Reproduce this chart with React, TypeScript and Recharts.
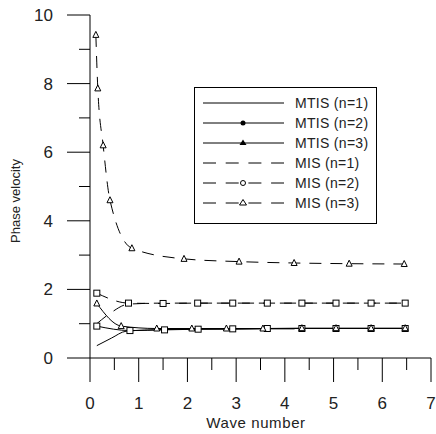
import React from "react";
import { LineChart, Line, XAxis, YAxis, Legend } from "recharts";

const FONT = '"Liberation Sans", Arial, sans-serif';
const INK = "#222";

// values
const xTicks = [0, 0.5, 1, 1.5, 2, 2.5, 3, 3.5, 4, 4.5, 5, 5.5, 6, 6.5, 7];
const yTicks = [0, 1, 2, 3, 4, 5, 6, 7, 8, 9, 10];

const mtis1X = [0.14, 0.44, 0.74, 1.5, 2.2, 2.9, 3.6, 4.2];
const mtis1Y = [0.36, 0.58, 0.78, 0.83, 0.84, 0.84, 0.85, 0.85];

const mtis2X = [0.14, 0.82, 1.53, 2.22, 2.93, 3.64, 4.35, 5.05, 5.77, 6.47];
const mtis2Y = [0.93, 0.8, 0.82, 0.84, 0.85, 0.86, 0.86, 0.86, 0.86, 0.86];

const mtis3X = [0.14, 0.64, 1.37, 2.09, 2.8, 3.55, 4.35, 5.05, 5.77, 6.47];
const mtis3Y = [1.59, 0.93, 0.86, 0.86, 0.86, 0.86, 0.87, 0.87, 0.87, 0.87];

const mis1X = [0.14, 0.42, 0.79, 1.5, 2.21, 2.93, 3.64, 4.35, 5.05, 5.77, 6.47];
const mis1Y = [1.0, 1.31, 1.57, 1.6, 1.6, 1.6, 1.6, 1.6, 1.6, 1.6, 1.6];

const mis2X = [0.14, 0.79, 1.5, 2.21, 2.93, 3.64, 4.35, 5.05, 5.77, 6.47];
const mis2Y = [1.89, 1.6, 1.59, 1.6, 1.6, 1.6, 1.6, 1.6, 1.6, 1.6];

const mis3X = [0.12, 0.16, 0.27, 0.41, 0.86, 1.93, 3.06, 4.19, 5.32, 6.45];
const mis3Y = [9.42, 7.86, 6.2, 4.6, 3.2, 2.89, 2.81, 2.77, 2.75, 2.74];

const legendRows = [
  { label: "MTIS (n=1)", dash: false, mark: "" },
  { label: "MTIS (n=2)", dash: false, mark: "circleFilled" },
  { label: "MTIS (n=3)", dash: false, mark: "triFilled" },
  { label: "MIS (n=1)", dash: true, mark: "" },
  { label: "MIS (n=2)", dash: true, mark: "circleOpen" },
  { label: "MIS (n=3)", dash: true, mark: "triOpen" },
];

const pts = (xs: number[], ys: number[]) => xs.map((x, i) => ({ x, y: ys[i] }));

const DASH = "12 9";

const squareDot = (p: any) => (
  <rect key={`s${p.index}`} x={p.cx - 3} y={p.cy - 3} width={6} height={6} fill="#fff" stroke="#000" strokeWidth={1} />
);

const triDot = (p: any) => (
  <polygon
    key={`t${p.index}`}
    points={`${p.cx},${p.cy - 3.5} ${p.cx - 3},${p.cy + 2.5} ${p.cx + 3},${p.cy + 2.5}`}
    fill="#fff"
    stroke="#000"
    strokeWidth={1}
  />
);

const XTick = (p: any) => {
  const v = p.payload.value;
  const major = Number.isInteger(v);
  return (
    <g>
      <line x1={p.x} y1={p.y} x2={p.x} y2={p.y + (major ? 24 : 12)} stroke="#000" />
      {major && (
        <text x={p.x} y={409} textAnchor="middle" fontSize={17} fontFamily={FONT} fill={INK}>
          {v}
        </text>
      )}
    </g>
  );
};

const YTick = (p: any) => {
  const v = p.payload.value;
  const major = v % 2 === 0;
  return (
    <g>
      <line x1={p.x - (major ? 23 : 11)} y1={p.y} x2={p.x} y2={p.y} stroke="#000" />
      {major && (
        <text x={53} y={p.y} dy="0.35em" textAnchor="end" fontSize={17} fontFamily={FONT} fill={INK}>
          {v}
        </text>
      )}
    </g>
  );
};

const LegendBox = () => (
  <svg width={184} height={138} style={{ display: "block" }}>
    <rect x={0.5} y={0.5} width={182} height={136} fill="#fff" stroke="#000" />
    {legendRows.map((r, i) => {
      const cy = 16 + i * 20;
      return (
        <g key={r.label}>
          <line x1={9} y1={cy} x2={90} y2={cy} stroke="#000" strokeDasharray={r.dash ? "13 9.7" : undefined} />
          {r.mark === "circleFilled" && <circle cx={49} cy={cy} r={2.5} fill="#000" />}
          {r.mark === "circleOpen" && <circle cx={49} cy={cy} r={2.5} fill="#fff" stroke="#000" />}
          {r.mark === "triFilled" && (
            <polygon points={`49,${cy - 3.5} 45.5,${cy + 2} 52.5,${cy + 2}`} fill="#000" />
          )}
          {r.mark === "triOpen" && (
            <polygon points={`49,${cy - 3.5} 45.5,${cy + 2} 52.5,${cy + 2}`} fill="#fff" stroke="#000" />
          )}
          <text x={101} y={cy + 5} fontSize={14} fontFamily={FONT} fill={INK} letterSpacing={0.3}>
            {r.label}
          </text>
        </g>
      );
    })}
  </svg>
);

export default function App() {
  return (
    <div style={{ position: "absolute", left: 0, top: 0, background: "#fff" }}>
      <LineChart width={436} height={434} margin={{ top: 15, right: 5, bottom: 0, left: 0 }}>
        <XAxis
          type="number"
          dataKey="x"
          domain={[0, 7]}
          ticks={xTicks}
          interval={0}
          tickSize={0}
          tickMargin={0}
          tick={<XTick />}
          axisLine={{ stroke: "#000" }}
          height={76}
          allowDuplicatedCategory={false}
          label={{
            content: () => (
              <text x={256} y={428} textAnchor="middle" fontSize={15} fontFamily={FONT} fill={INK} letterSpacing={0.6}>
                Wave number
              </text>
            ),
          }}
        />
        <YAxis
          type="number"
          dataKey="y"
          domain={[0, 10]}
          ticks={yTicks}
          interval={0}
          tickSize={0}
          tickMargin={0}
          tick={<YTick />}
          axisLine={{ stroke: "#000" }}
          width={90}
          label={{
            content: () => (
              <text
                transform="translate(20,201) rotate(-90)"
                textAnchor="middle"
                fontSize={13}
                fontFamily={FONT}
                fill={INK}
              >
                Phase velocity
              </text>
            ),
          }}
        />
        <Legend
          layout="horizontal"
          verticalAlign="middle"
          align="center"
          wrapperStyle={{ position: "absolute", left: 194, top: 87, width: 184, height: 138 }}
          content={() => <LegendBox />}
        />
        <Line data={pts(mtis1X, mtis1Y)} dataKey="y" type="monotone" stroke="#000" strokeWidth={1} dot={false} activeDot={false} isAnimationActive={false} name="MTIS (n=1)" />
        <Line data={pts(mtis2X, mtis2Y)} dataKey="y" type="monotone" stroke="#000" strokeWidth={1} dot={squareDot} activeDot={false} isAnimationActive={false} name="MTIS (n=2)" />
        <Line data={pts(mtis3X, mtis3Y)} dataKey="y" type="monotone" stroke="#000" strokeWidth={1} dot={triDot} activeDot={false} isAnimationActive={false} name="MTIS (n=3)" />
        <Line data={pts(mis1X, mis1Y)} dataKey="y" type="monotone" stroke="#000" strokeWidth={1} strokeDasharray={DASH} dot={false} activeDot={false} isAnimationActive={false} name="MIS (n=1)" />
        <Line data={pts(mis2X, mis2Y)} dataKey="y" type="monotone" stroke="#000" strokeWidth={1} strokeDasharray={DASH} dot={squareDot} activeDot={false} isAnimationActive={false} name="MIS (n=2)" />
        <Line data={pts(mis3X, mis3Y)} dataKey="y" type="monotone" stroke="#000" strokeWidth={1} strokeDasharray={DASH} dot={triDot} activeDot={false} isAnimationActive={false} name="MIS (n=3)" />
      </LineChart>
    </div>
  );
}
